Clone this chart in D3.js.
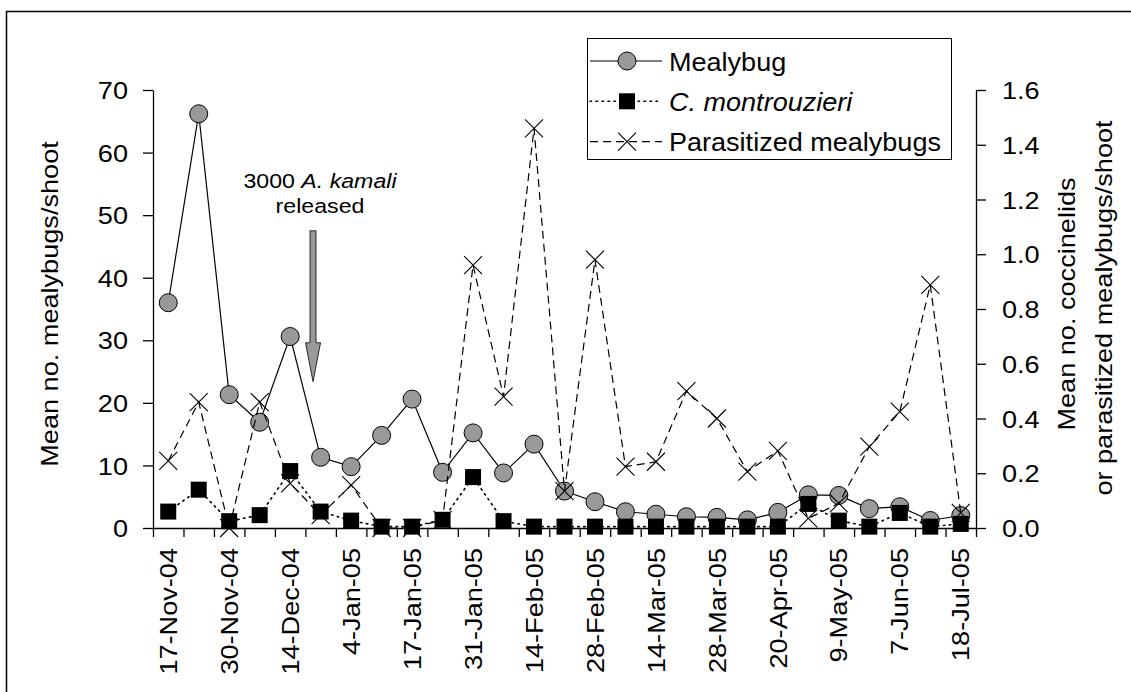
<!DOCTYPE html>
<html>
<head>
<meta charset="utf-8">
<script src="https://cdn.jsdelivr.net/npm/d3@7"></script>
<style>
body { margin: 0; background: #fff; }
svg { display: block; }
</style>
</head>
<body>
<div id="chart"></div>
<script>
'use strict';

// sampling dates (only every second one is labelled)
var dates = ['17-Nov-04', '24-Nov-04', '30-Nov-04', '7-Dec-04', '14-Dec-04', '21-Dec-04',
	'4-Jan-05', '10-Jan-05', '17-Jan-05', '24-Jan-05', '31-Jan-05', '7-Feb-05',
	'14-Feb-05', '21-Feb-05', '28-Feb-05', '7-Mar-05', '14-Mar-05', '21-Mar-05',
	'28-Mar-05', '7-Apr-05', '20-Apr-05', '28-Apr-05', '9-May-05', '23-May-05',
	'7-Jun-05', '27-Jun-05', '18-Jul-05'];

// left axis
var mealybug = [36.0, 66.2, 21.3, 16.9, 30.6, 11.3, 9.8, 14.8, 20.6, 8.9, 15.2, 8.8,
	13.4, 5.9, 4.2, 2.6, 2.2, 1.8, 1.7, 1.3, 2.5, 5.3, 5.2, 3.1, 3.4, 1.2, 2.0];

// right axis
var montrouzieri = [0.06, 0.14, 0.025, 0.047, 0.208, 0.06, 0.027, 0.005, 0.005, 0.03, 0.186, 0.025,
	0.005, 0.005, 0.005, 0.005, 0.005, 0.005, 0.005, 0.005, 0.005, 0.088, 0.027, 0.005, 0.055, 0.005, 0.015];
var parasitized = [0.245, 0.46, 0.0, 0.46, 0.163, 0.047, 0.157, 0.0, 0.0, 0.03, 0.96, 0.48,
	1.46, 0.135, 0.98, 0.224, 0.242, 0.50, 0.40, 0.206, 0.282, 0.035, 0.09, 0.297, 0.425, 0.888, 0.055];

var leftTicks = [0, 10, 20, 30, 40, 50, 60, 70];
var rightTicks = [0, 0.2, 0.4, 0.6, 0.8, 1.0, 1.2, 1.4, 1.6];
var seriesNames = ['Mealybug', 'C. montrouzieri', 'Parasitized mealybugs'];

var width = 1131;
var height = 692;
var font = '"Liberation Sans", Arial, sans-serif';
var fontSize = 24;
var stretch = 1.13;   // the original text is a bit wider than plain Arial
var plot = {left: 153, right: 976, top: 90, bottom: 528};
var grey = '#999999';

var svg = d3.select('#chart')
	.append('svg')
	.attr('width', width)
	.attr('height', height)
	.style('font-family', font);

// outer frame, runs off the right and bottom edge
svg.append('rect')
	.attr('x', 6.5)
	.attr('y', 11.5)
	.attr('width', 1200)
	.attr('height', 800)
	.attr('fill', 'none')
	.attr('stroke', '#000')
	.attr('stroke-width', 1.5);

var x = d3.scaleBand().domain(dates).range([plot.left, plot.right]);
var xEdge = d3.scaleLinear().domain([0, dates.length]).range([plot.left, plot.right]);
var yL = d3.scaleLinear().domain([0, 70]).range([plot.bottom, plot.top]);
var yR = d3.scaleLinear().domain([0, 1.6]).range([plot.bottom, plot.top]);

function cx(d, i) {
	return x(dates[i]) + x.bandwidth() / 2;
}

function styleAxis(g) {
	g.attr('font-family', font).attr('font-size', fontSize);
	g.select('.domain').attr('stroke', '#000').attr('stroke-width', 1.3);
	g.selectAll('.tick line').attr('stroke', '#000').attr('stroke-width', 1.3);
	g.selectAll('.tick text').attr('fill', '#000');
}

// stretched text helper
function label(parent, tx, ty, rot, size, anchor, sx) {
	return parent.append('g')
		.attr('transform', 'translate(' + tx + ',' + ty + ') rotate(' + rot + ') scale(' + (sx || stretch) + ',1)')
		.append('text')
		.attr('font-size', size)
		.attr('text-anchor', anchor)
		.attr('fill', '#000');
}

//axes
var gl = svg.append('g')
	.attr('transform', 'translate(' + plot.left + ',0)')
	.call(d3.axisLeft(yL).tickValues(leftTicks).tickSize(10).tickSizeOuter(0).tickFormat(d3.format('d')));
styleAxis(gl);
gl.selectAll('.tick text')
	.attr('x', -25 / stretch)
	.attr('dy', '0.36em')
	.attr('transform', 'scale(' + stretch + ',1)');

var gr = svg.append('g')
	.attr('transform', 'translate(' + plot.right + ',0)')
	.call(d3.axisRight(yR).tickValues(rightTicks).tickSize(10).tickSizeOuter(0).tickFormat(d3.format('.1f')));
styleAxis(gr);
gr.selectAll('.tick text')
	.attr('x', 26 / stretch)
	.attr('dy', '0.36em')
	.attr('transform', 'scale(' + stretch + ',1)');

// tick marks sit on the category boundaries
var gxt = svg.append('g')
	.attr('transform', 'translate(0,' + plot.bottom + ')')
	.call(d3.axisBottom(xEdge).tickValues(d3.range(dates.length + 1)).tickSize(9).tickSizeOuter(0).tickFormat(''));
styleAxis(gxt);

var gx = svg.append('g')
	.attr('transform', 'translate(0,' + plot.bottom + ')')
	.call(d3.axisBottom(x).tickValues(dates.filter(function (d, i) { return i % 2 === 0; })).tickSize(0));
styleAxis(gx);
gx.select('.domain').remove();
gx.selectAll('.tick text')
	.attr('x', 0)
	.attr('y', 0)
	.attr('dy', '0.36em')
	.attr('text-anchor', 'end')
	.attr('transform', 'translate(0,20) rotate(-90) scale(' + stretch + ',1)');

// axis titles
label(svg, 58, 304, -90, fontSize, 'middle').text('Mean no. mealybugs/shoot');
label(svg, 1075, 304, -90, fontSize, 'middle').text('Mean no. coccinelids');
label(svg, 1112, 308, -90, fontSize, 'middle').text('or parasitized mealybugs/shoot');

// release annotation
var ann = label(svg, 320, 188, 0, 20.5, 'middle');
ann.append('tspan').text('3000 ');
ann.append('tspan').attr('font-style', 'italic').text('A. kamali');
label(svg, 320, 213, 0, 20.5, 'middle').text('released');

var ax = x(dates[5]) + x.bandwidth() * 0.25;
var aTop = yL(47.5);
var aHead = yL(29.6);
var aTip = yL(23.4);
svg.append('polygon')
	.attr('points', [
		[ax - 3, aTop], [ax + 3, aTop], [ax + 3, aHead], [ax + 7.5, aHead],
		[ax, aTip], [ax - 7.5, aHead], [ax - 3, aHead]
	].map(function (p) { return p.join(','); }).join(' '))
	.attr('fill', grey)
	.attr('stroke', '#000')
	.attr('stroke-width', 0.8);

// series
var series = [
	{name: seriesNames[0], values: mealybug, y: yL, dash: null, marker: 'circle'},
	{name: seriesNames[1], values: montrouzieri, y: yR, dash: '1.5,4.5', marker: 'square'},
	{name: seriesNames[2], values: parasitized, y: yR, dash: '8,5', marker: 'cross'}
];

function drawMarker(g, type, px, py) {
	if (type === 'circle') {
		g.append('circle')
			.attr('cx', px).attr('cy', py).attr('r', 9)
			.attr('fill', grey).attr('stroke', '#000').attr('stroke-width', 1);
	} else if (type === 'square') {
		g.append('rect')
			.attr('x', px - 8).attr('y', py - 8).attr('width', 16).attr('height', 16)
			.attr('fill', '#000');
	} else {
		g.append('path')
			.attr('d', 'M' + (px - 9) + ',' + (py - 9) + 'L' + (px + 9) + ',' + (py + 9) +
				'M' + (px - 9) + ',' + (py + 9) + 'L' + (px + 9) + ',' + (py - 9))
			.attr('stroke', '#000').attr('stroke-width', 1.1).attr('fill', 'none');
	}
}

series.forEach(function (s) {
	var g = svg.append('g');
	var line = d3.line()
		.x(cx)
		.y(function (d) { return s.y(d); });

	g.append('path')
		.datum(s.values)
		.attr('d', line)
		.attr('fill', 'none')
		.attr('stroke', '#000')
		.attr('stroke-width', s.marker === 'square' ? 1.6 : 1.2)
		.attr('stroke-linecap', s.marker === 'square' ? 'round' : 'butt')
		.attr('stroke-dasharray', s.dash);

	s.values.forEach(function (v, i) {
		drawMarker(g, s.marker, cx(v, i), s.y(v));
	});
});

//legend
var legend = svg.append('g');
legend.append('rect')
	.attr('x', 587.5)
	.attr('y', 38.5)
	.attr('width', 364)
	.attr('height', 121)
	.attr('fill', '#fff')
	.attr('stroke', '#000')
	.attr('stroke-width', 1);

series.forEach(function (s, i) {
	var ry = 61 + i * 40.3;
	legend.append('line')
		.attr('x1', 590).attr('x2', 662)
		.attr('y1', ry).attr('y2', ry)
		.attr('stroke', '#000')
		.attr('stroke-width', s.marker === 'square' ? 1.6 : 1.2)
		.attr('stroke-linecap', s.marker === 'square' ? 'round' : 'butt')
		.attr('stroke-dasharray', s.dash);
	drawMarker(legend, s.marker, 627, ry);
	var t = label(legend, 669, ry + 9.5, 0, 26, 'start', 1.04);
	if (i === 1) {
		t.attr('font-style', 'italic');
	}
	t.text(s.name);
});
</script>
</body>
</html>
